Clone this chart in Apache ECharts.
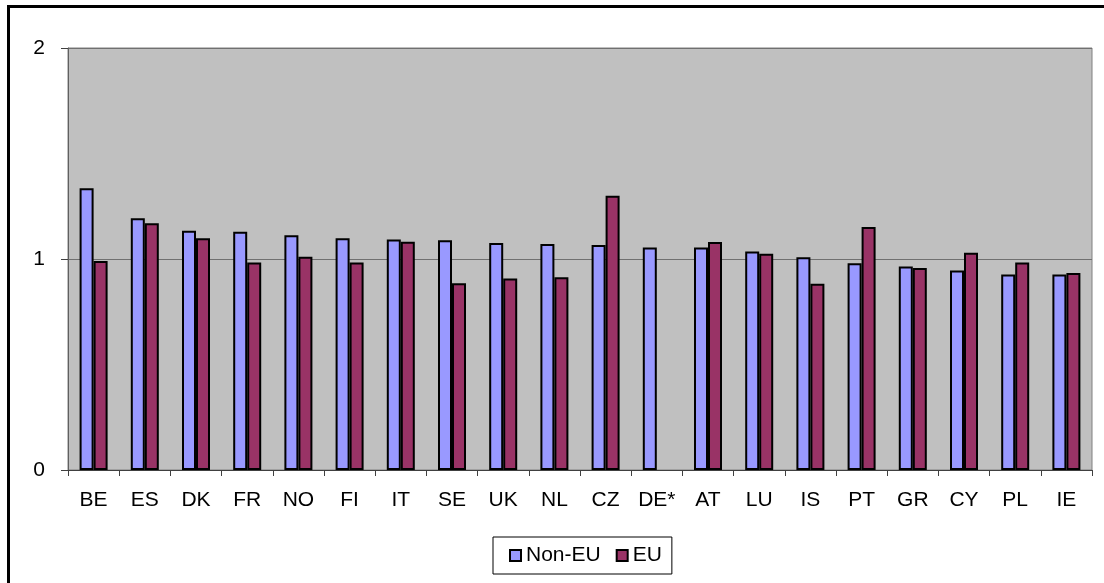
<!DOCTYPE html>
<html>
<head>
<meta charset="utf-8">
<script src="https://cdn.jsdelivr.net/npm/echarts@6/dist/echarts.min.js"></script>
<style>
  html, body { margin: 0; padding: 0; background: #fff; }
  #chart { width: 1104px; height: 583px; }
</style>
</head>
<body>
<div id="chart"></div>
<script>
const countries = ['BE', 'ES', 'DK', 'FR', 'NO', 'FI', 'IT', 'SE', 'UK', 'NL', 'CZ', 'DE*', 'AT', 'LU', 'IS', 'PT', 'GR', 'CY', 'PL', 'IE']
const nonEU = [1.335, 1.193, 1.134, 1.129, 1.112, 1.098, 1.093, 1.089, 1.076, 1.071, 1.066, 1.055, 1.055, 1.035, 1.008, 0.980, 0.965, 0.945, 0.927, 0.927]
const eu = [0.99, 1.169, 1.098, 0.984, 1.011, 0.984, 1.082, 0.885, 0.908, 0.913, 1.300, null, 1.081, 1.025, 0.883, 1.152, 0.957, 1.030, 0.984, 0.934]
const yTicks = [0, 1, 2]

const font = 'Liberation Sans, Arial, sans-serif'
const chart = echarts.init(document.getElementById('chart'))

chart.setOption({
  animation: false,
  grid: {
    left: 68,
    right: 12,
    top: 48,
    bottom: 113,
    show: true,
    backgroundColor: '#c0c0c0',
    borderColor: '#808080',
    borderWidth: 1
  },
  legend: {
    data: ['Non-EU', 'EU'],
    left: 493,
    top: 537,
    orient: 'horizontal',
    padding: [8, 10, 8, 16],
    borderColor: '#000',
    borderWidth: 1,
    backgroundColor: '#fff',
    itemWidth: 11,
    itemHeight: 11,
    itemGap: 15,
    icon: 'rect',
    textStyle: { fontFamily: font, fontSize: 21, color: '#000' }
  },
  xAxis: {
    type: 'category',
    data: countries,
    axisLine: { lineStyle: { color: '#404040', width: 1 } },
    axisTick: { show: true, length: 6, lineStyle: { color: '#404040' } },
    axisLabel: { fontFamily: font, fontSize: 21, color: '#000', margin: 20, interval: 0 }
  },
  yAxis: {
    type: 'value',
    min: yTicks[0],
    max: yTicks[yTicks.length - 1],
    interval: 1,
    axisLine: { show: true, lineStyle: { color: '#606060', width: 1 } },
    axisTick: { show: true, length: 7, lineStyle: { color: '#404040' } },
    axisLabel: { fontFamily: font, fontSize: 21, color: '#000', margin: 23 },
    splitLine: { show: true, lineStyle: { color: '#707070', width: 1 } }
  },
  series: [
    {
      name: 'Non-EU',
      type: 'bar',
      data: nonEU,
      barWidth: 14,
      barGap: 0,
      itemStyle: { color: '#9999ff', borderColor: '#000', borderWidth: 2 }
    },
    {
      name: 'EU',
      type: 'bar',
      data: eu,
      barWidth: 14,
      itemStyle: { color: '#993366', borderColor: '#000', borderWidth: 2 }
    }
  ],
  graphic: [
    {
      type: 'polyline',
      shape: { points: [[8.5, 583], [8.5, 6.5], [1104, 6.5]] },
      style: { stroke: '#000', lineWidth: 3, fill: null }
    }
  ]
})
</script>
</body>
</html>
